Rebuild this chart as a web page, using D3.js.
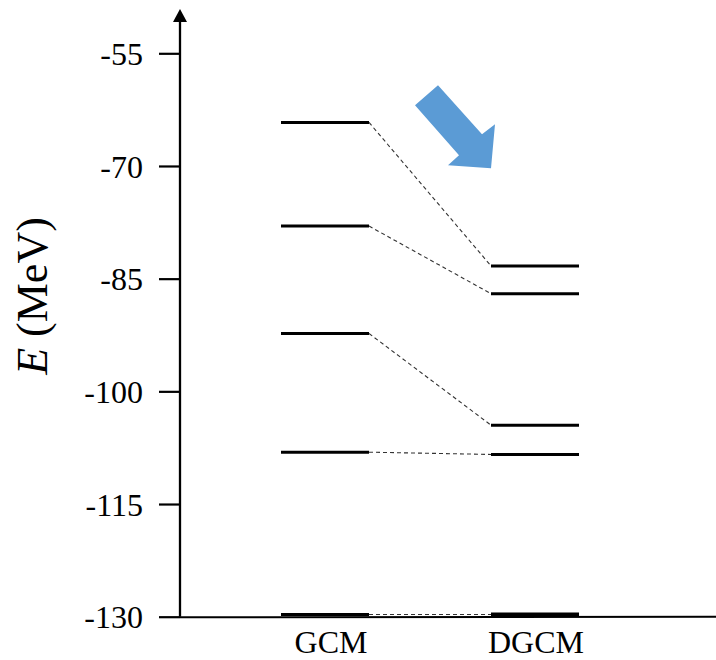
<!DOCTYPE html>
<html>
<head>
<meta charset="utf-8">
<script src="https://cdn.jsdelivr.net/npm/d3@7"></script>
<style>
  html, body { margin: 0; padding: 0; background: #fff; }
  svg { display: block; }
  text { font-family: "Liberation Serif", "DejaVu Serif", serif; fill: #000; }
</style>
</head>
<body>
<svg id="chart" width="716" height="660"></svg>
<script>
// ---- data ----
const categories = ["GCM", "DGCM"];
const gcmLevels  = [-64.2, -78.0, -92.3, -108.1, -129.7];
const dgcmLevels = [-83.3, -87.0, -104.5, -108.4, -129.7];
const yTicks = [-55, -70, -85, -100, -115, -130];
const yLabelItalic = "E";
const yLabelRest = " (MeV)";

// ---- layout ----
const svg = d3.select("#chart");
const W = 716, H = 660;
const axisX = 180;
const y = d3.scaleLinear().domain([-130, -55]).range([616.7, 53.3]);
const x = d3.scalePoint().domain(categories).range([325, 535]);
const halfW = 44;

// y axis (ticks on left, outward)
const yAxis = d3.axisLeft(y).tickValues(yTicks).tickSize(21).tickPadding(16)
  .tickFormat(d => String(d));
const gy = svg.append("g").attr("transform", `translate(${axisX},0)`).call(yAxis);
gy.select(".domain").remove();
gy.selectAll(".tick line").attr("stroke", "#000").attr("stroke-width", 2.2);
gy.selectAll(".tick text").style("font-size", "32px").attr("dy", "0.35em");

// vertical axis line with arrow
svg.append("line")
  .attr("x1", axisX).attr("x2", axisX)
  .attr("y1", y(-130)).attr("y2", 18)
  .attr("stroke", "#000").attr("stroke-width", 2.3);
svg.append("path")
  .attr("d", `M${axisX},9 L${axisX + 7},22 L${axisX - 7},22 Z`)
  .attr("fill", "#000");

// horizontal axis line
svg.append("line")
  .attr("x1", axisX).attr("x2", W)
  .attr("y1", y(-130) + 0.6).attr("y2", y(-130))
  .attr("stroke", "#000").attr("stroke-width", 2);

// dashed connectors
const pairs = gcmLevels.map((g, i) => ({ g, d: dgcmLevels[i] }));
svg.append("g").selectAll("line").data(pairs).join("line")
  .attr("x1", x("GCM") + halfW).attr("y1", d => y(d.g))
  .attr("x2", x("DGCM") - halfW).attr("y2", d => y(d.d))
  .attr("stroke", "#333").attr("stroke-width", 1.1)
  .attr("stroke-dasharray", "4,3");

// level lines
function drawLevels(cat, levels) {
  svg.append("g").selectAll("line").data(levels).join("line")
    .attr("x1", x(cat) - halfW).attr("x2", x(cat) + halfW)
    .attr("y1", d => y(d)).attr("y2", d => y(d))
    .attr("stroke", "#000")
    .attr("stroke-width", (d, i) => (cat === "DGCM" && i === levels.length - 1) ? 4 : 3);
}
drawLevels("GCM", gcmLevels);
drawLevels("DGCM", dgcmLevels);

// category labels
svg.append("g").selectAll("text").data(categories).join("text")
  .attr("x", d => x(d) + (d === "GCM" ? 6 : 1))
  .attr("y", 653)
  .attr("text-anchor", "middle")
  .style("font-size", "32px")
  .text(d => d);

// y label
const yl = svg.append("text")
  .attr("transform", "translate(47,296) rotate(-90)")
  .attr("text-anchor", "middle")
  .style("font-size", "44px");
yl.append("tspan").style("font-style", "italic").text(yLabelItalic);
yl.append("tspan").text(yLabelRest);

// blue annotation arrow (pointing down-right toward DGCM)
const ax = x("DGCM"), ay = y(-55);
const arrowPts = [
  [-120, 52], [-97, 32], [-53, 81], [-40, 71], [-44, 115], [-87, 112], [-76, 102]
].map(p => [ax + p[0], ay + p[1]]);
svg.append("path")
  .attr("d", d3.line()(arrowPts) + "Z")
  .attr("fill", "#5B9BD5");
</script>
</body>
</html>
